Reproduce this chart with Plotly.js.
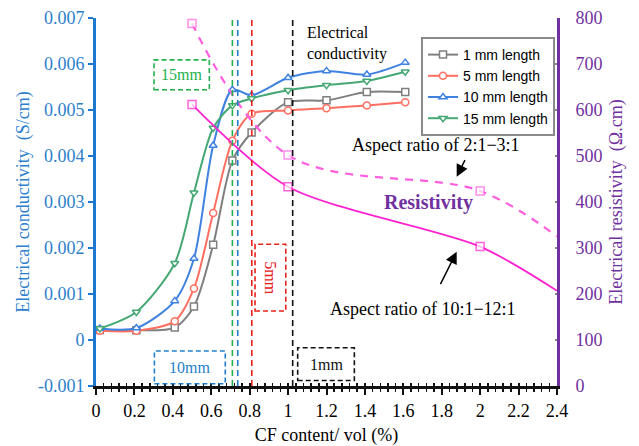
<!DOCTYPE html>
<html>
<head>
<meta charset="utf-8">
<script src="https://cdn.plot.ly/plotly-3.0.1.min.js"></script>
<style>html,body{margin:0;padding:0;background:#fff;}#chart{width:639px;height:446px;}</style>
</head>
<body>
<div id="chart"></div>
<script>
// CF content (vol %) at which conductivity was measured
var cfContent = [0.02, 0.21, 0.41, 0.51, 0.61, 0.71, 0.81, 1.0, 1.2, 1.41, 1.61];
// Electrical conductivity (S/cm)
var cond1mm  = [0.00022, 0.00021, 0.00027, 0.00073, 0.00207, 0.0039, 0.00451, 0.00517, 0.00521, 0.00539, 0.00539];
var cond5mm  = [0.00020, 0.00020, 0.00041, 0.00112, 0.00276, 0.00433, 0.00492, 0.00499, 0.00504, 0.0051, 0.00517];
var cond10mm = [0.00025, 0.00026, 0.00085, 0.00177, 0.00423, 0.00544, 0.00532, 0.0057, 0.00585, 0.00577, 0.00603];
var cond15mm = [0.00025, 0.00061, 0.00167, 0.0032, 0.00461, 0.0051, 0.00525, 0.00543, 0.00554, 0.00563, 0.00583];
var seriesNames = ["1 mm length", "5 mm length", "10 mm length", "15 mm length"];
// Electrical resistivity (Ω.cm)
var resX = [0.5, 1.0, 2.0, 2.4];
var resHighAR = [612, 433, 303, 207];   // aspect ratio 10:1-12:1 (solid)
var resLowAR  = [788, 502, 424, 325];   // aspect ratio 2:1-3:1 (dashed)
// Percolation thresholds per fibre length
var thresholdX = [0.71, 0.738, 0.811, 1.024];
var thresholdLabels = ["15mm", "10mm", "5mm", "1mm"];
// Tick labels
var leftTickVals = [-0.001, 0, 0.001, 0.002, 0.003, 0.004, 0.005, 0.006, 0.007];
var leftTickText = ["-0.001", "0", "0.001", "0.002", "0.003", "0.004", "0.005", "0.006", "0.007"];

var serif = "Liberation Serif, Times New Roman, serif";
var sans = "Liberation Sans, Arial, sans-serif";
var condColors = ["#7f7f7f", "#ff6f61", "#3f82e0", "#45a874"];
var condSymbols = ["square", "circle", "triangle-up", "triangle-down"];
var condData = [cond1mm, cond5mm, cond10mm, cond15mm];

var traces = [];
for (var i = 0; i < 4; i++) {
  traces.push({
    x: cfContent, y: condData[i], name: seriesNames[i], type: "scatter", mode: "lines+markers",
    line: {color: condColors[i], width: 2, shape: "spline", smoothing: 0.8},
    marker: {symbol: condSymbols[i], size: 7, color: "#ffffff", line: {color: condColors[i], width: 1.5}},
    xaxis: "x", yaxis: "y"
  });
}
traces.push({
  x: resX, y: resLowAR, type: "scatter", mode: "lines+markers", showlegend: false, yaxis: "y2",
  line: {color: "#ff5ee0", width: 2.2, dash: "8px,7px", shape: "spline", smoothing: 1},
  marker: {symbol: "square", size: [8, 8, 8, 0], color: "#ffffff", line: {color: "#ff5ee0", width: 1.5}}
});
traces.push({
  x: resX, y: resHighAR, type: "scatter", mode: "lines+markers", showlegend: false, yaxis: "y2",
  line: {color: "#ff22d0", width: 1.8, shape: "spline", smoothing: 0.8},
  marker: {symbol: "square", size: [8, 8, 8, 0], color: "#ffffff", line: {color: "#ff22d0", width: 1.5}}
});
// dummy trace to activate overlay x axis for crossing ticks
traces.push({x: [0, 2.4], y: [0, 0], xaxis: "x2", yaxis: "y", mode: "none", showlegend: false, hoverinfo: "skip"});

var lineColors = ["#22b04c", "#1f7fc8", "#e8201a", "#111111"];
var shapes = [];
for (var k = 0; k < thresholdX.length; k++) {
  shapes.push({type: "line", xref: "x", yref: "paper", x0: thresholdX[k], x1: thresholdX[k], y0: 0, y1: 1.005,
    line: {color: lineColors[k], width: 1.6, dash: "6px,4px"}});
}
var boxes = [
  {x0: 0.302, x1: 0.59, y0: 0.00544, y1: 0.00609},
  {x0: 0.304, x1: 0.673, y0: -0.00095, y1: -0.00024},
  {x0: 0.828, x1: 0.988, y0: 0.00063, y1: 0.00208},
  {x0: 1.05, x1: 1.345, y0: -0.00088, y1: -0.00017}
];
var annotations = [];
for (var b = 0; b < boxes.length; b++) {
  shapes.push({type: "rect", xref: "x", yref: "y", x0: boxes[b].x0, x1: boxes[b].x1, y0: boxes[b].y0, y1: boxes[b].y1,
    line: {color: lineColors[b], width: 1.6, dash: "5px,3px"}, fillcolor: "rgba(0,0,0,0)"});
  annotations.push({xref: "x", yref: "y", x: (boxes[b].x0 + boxes[b].x1) / 2, y: (boxes[b].y0 + boxes[b].y1) / 2,
    text: thresholdLabels[b], showarrow: false, textangle: b === 2 ? 90 : 0,
    font: {family: serif, size: 16, color: lineColors[b]}});
}
annotations.push({xref: "paper", yref: "paper", x: (305 - 96) / 461, y: (386 - 22) / 368, xanchor: "left", yanchor: "top",
  align: "left", showarrow: false, text: "Electrical<br>conductivity", font: {family: serif, size: 16, color: "#000"}});
annotations.push({xref: "paper", yref: "paper", x: (436 - 96) / 461, y: (386 - 145) / 368, xanchor: "center", yanchor: "middle",
  showarrow: false, text: "Aspect ratio of 2:1\u22123:1", font: {family: serif, size: 18, color: "#000"}});
annotations.push({xref: "paper", yref: "paper", x: (428 - 96) / 461, y: (386 - 202) / 368, xanchor: "center", yanchor: "middle",
  showarrow: false, text: "<b>Resistivity</b>", font: {family: serif, size: 20, color: "#7030a0"}});
annotations.push({xref: "paper", yref: "paper", x: (423 - 96) / 461, y: (386 - 309) / 368, xanchor: "center", yanchor: "middle",
  showarrow: false, text: "Aspect ratio of 10:1\u221212:1", font: {family: serif, size: 18, color: "#000"}});
annotations.push({xref: "paper", yref: "paper", x: (456.7 - 96) / 461, y: (386 - 176.7) / 368, ax: 9, ay: -18,
  text: "", showarrow: true, arrowhead: 2, arrowsize: 1.6, arrowwidth: 1.5, arrowcolor: "#000", standoff: 0, startstandoff: 0});
annotations.push({xref: "paper", yref: "paper", x: (456.7 - 96) / 461, y: (386 - 251.7) / 368, ax: -17, ay: 34,
  text: "", showarrow: true, arrowhead: 2, arrowsize: 1.6, arrowwidth: 1.5, arrowcolor: "#000", standoff: 0, startstandoff: 0});

var layout = {
  width: 639, height: 446,
  margin: {l: 96, r: 82, t: 18, b: 60},
  paper_bgcolor: "#fff", plot_bgcolor: "#fff",
  showlegend: true,
  legend: {x: (421 - 96) / 461, y: (386 - 37) / 368, xanchor: "left", yanchor: "top",
    bgcolor: "#fff", bordercolor: "#8a8a8a", borderwidth: 2, font: {family: sans, size: 14, color: "#000"},
    tracegroupgap: 0, itemwidth: 30},
  xaxis: {range: [0, 2.4], dtick: 0.2, tick0: 0, showgrid: false, zeroline: false,
    showline: true, linecolor: "#111", linewidth: 3, ticks: "outside", ticklen: 6, tickwidth: 2, tickcolor: "#111",
    minor: {dtick: 0.04, ticks: "outside", ticklen: 3, tickwidth: 1.5, tickcolor: "#111"},
    tickfont: {family: serif, size: 18, color: "#000"}, ticklabelstandoff: 0,
    title: {text: "CF content/ vol (%)", font: {family: serif, size: 18, color: "#000"}, standoff: 10}},
  xaxis2: {overlaying: "x", anchor: "y", side: "bottom", range: [0, 2.4], dtick: 0.2, tick0: 0, showgrid: false, zeroline: false,
    showline: false, ticks: "inside", ticklen: 3, tickwidth: 2, tickcolor: "#111", showticklabels: false,
    minor: {dtick: 0.04, ticks: "inside", ticklen: 3, tickwidth: 1.5, tickcolor: "#111"}},
  yaxis: {range: [-0.001, 0.007], tickvals: leftTickVals, ticktext: leftTickText, showgrid: false, zeroline: false,
    showline: true, linecolor: "#1c78d0", linewidth: 3, ticks: "outside", ticklen: 5, tickwidth: 2, tickcolor: "#1c78d0",
    tickfont: {family: serif, size: 18, color: "#2d7fcd"},
    title: {text: "Electrical conductivity  (S/cm)", font: {family: serif, size: 18, color: "#2d7fcd"}, standoff: 4}},
  yaxis2: {overlaying: "y", side: "right", range: [0, 800], dtick: 100, showgrid: false, zeroline: false,
    showline: true, linecolor: "#7030a0", linewidth: 3, ticks: "inside", ticklen: 2, tickwidth: 2, tickcolor: "#888",
    tickfont: {family: serif, size: 18, color: "#7030a0"}, ticklabelstandoff: 12,
    title: {text: "Electrical resistivity  (\u03A9.cm)", font: {family: serif, size: 18, color: "#7030a0"}, standoff: 8}},
  shapes: shapes,
  annotations: annotations
};
Plotly.newPlot("chart", traces, layout, {displayModeBar: false, staticPlot: true});
</script>
</body>
</html>
